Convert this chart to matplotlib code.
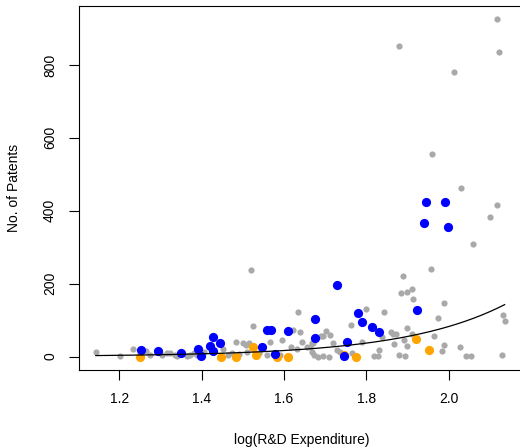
import numpy as np
import matplotlib
matplotlib.use('Agg')
import matplotlib.pyplot as plt

plt.rcParams['font.family'] = ['Liberation Sans', 'DejaVu Sans']

# all firms
grey_x = [1.143, 1.203, 1.234, 1.266, 1.275, 1.303, 1.315, 1.323, 1.335, 1.341,
          1.364, 1.372, 1.381, 1.390, 1.405, 1.452, 1.465, 1.475, 1.483, 1.490,
          1.500, 1.507, 1.516, 1.510, 1.519, 1.525, 1.540, 1.566, 1.560, 1.596,
          1.590, 1.618, 1.623, 1.631, 1.634, 1.639, 1.645, 1.656, 1.663, 1.668,
          1.668, 1.671, 1.673, 1.682, 1.689, 1.695, 1.696, 1.703, 1.710, 1.713,
          1.719, 1.728, 1.736, 1.763, 1.765, 1.790, 1.800, 1.818, 1.828, 1.831,
          1.839, 1.842, 1.861, 1.865, 1.867, 1.873, 1.880, 1.880, 1.884, 1.888,
          1.891, 1.894, 1.898, 1.898, 1.900, 1.910, 1.912, 1.913, 1.957, 1.960,
          1.964, 1.973, 1.983, 1.989, 1.989, 2.012, 2.027, 2.030, 2.041, 2.055,
          2.058, 2.100, 2.117, 2.118, 2.122, 2.129, 2.133, 2.136]
grey_y = [12, 1, 20, 14, 5, 5, 9, 9, 5, 1,
          2, 5, 9, 4, 12, 20, 5, 10, 41, 8,
          37, 32, 37, 12, 238, 84, 10, 41, 3, 44,
          5, 27, 73, 20, 123, 66, 41, 26, 27, 38,
          12, 37, 5, 0, 55, 1, 55, 69, 0, 60,
          38, 18, 12, 87, 9, 40, 131, 1, 1, 18,
          53, 121, 68, 62, 35, 62, 852, 4, 174, 221,
          44, 1, 79, 29, 177, 184, 62, 157, 241, 555,
          57, 106, 16, 147, 31, 780, 25, 462, 2, 2,
          309, 382, 926, 415, 836, 5, 114, 98]

# highlighted groups
orange_x = [1.250, 1.448, 1.483, 1.525, 1.532, 1.584, 1.609, 1.745, 1.774, 1.920, 1.952]
orange_y = [0, 0, 0, 27, 3, 0, 0, 5, 0, 48, 18]

blue_x = [1.252, 1.293, 1.350, 1.392, 1.398, 1.420, 1.428, 1.428, 1.444, 1.546,
          1.558, 1.568, 1.578, 1.609, 1.675, 1.675, 1.728, 1.745, 1.754, 1.779,
          1.789, 1.813, 1.830, 1.923, 1.940, 1.945, 1.991, 1.998]
blue_y = [18, 14, 9, 20, 1, 29, 54, 14, 38, 25,
          72, 72, 7, 69, 103, 50, 197, 1, 40, 119,
          95, 82, 66, 127, 367, 424, 424, 354]

# fitted log-linear model: patents = exp(b0 + b1 * x)
b0, b1 = -3.65, 4.03

x_ticks = [1.2, 1.4, 1.6, 1.8, 2.0]
y_ticks = [0, 200, 400, 600, 800]

fig = plt.figure(figsize=(5.2, 4.47), dpi=100)
ax = fig.add_axes([79.3 / 520, 77 / 447, (524 - 79.3) / 520, (370 - 5.5) / 447])

ax.scatter(grey_x, grey_y, s=20, color='darkgray', linewidths=0, zorder=2)
ax.scatter(orange_x, orange_y, s=44, color='orange', linewidths=0, zorder=3)
ax.scatter(blue_x, blue_y, s=44, color='blue', linewidths=0, zorder=4)

xs = np.linspace(min(grey_x), max(grey_x), 200)
ax.plot(xs, np.exp(b0 + b1 * xs), color='black', lw=0.9, zorder=5)

ax.set_xlim(1.103, 2.183)
ax.set_ylim(-37, 963)
ax.set_xticks(x_ticks)
ax.set_xticklabels(['1.2', '1.4', '1.6', '1.8', '2.0'])
ax.set_yticks(y_ticks)
ax.set_yticklabels([str(v) for v in y_ticks], rotation=90, va='center')
ax.tick_params(direction='out', length=7, width=0.8, labelsize=10, pad=9)
for s in ax.spines.values():
    s.set_linewidth(0.8)

fig.text(301.6 / 520, 1 - 440 / 447, 'log(R&D Expenditure)', ha='center', va='center', fontsize=10)
fig.text(14 / 520, 1 - 187.7 / 447, 'No. of Patents', ha='center', va='center',
         rotation=90, fontsize=10)

fig.savefig('out.png', dpi=100)
